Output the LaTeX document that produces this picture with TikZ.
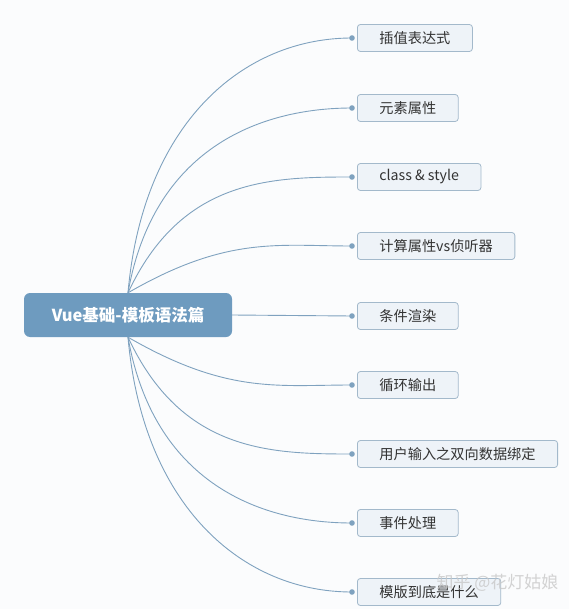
\documentclass[tikz,border=0pt]{standalone}
\usepackage{fontspec}
\setmainfont{Noto Sans CJK SC}
\usetikzlibrary{positioning}
\definecolor{rootblue}{HTML}{6E9BBF}
\definecolor{linkblue}{HTML}{7FA2BF}
\definecolor{leaffill}{HTML}{EEF3F8}
\definecolor{leafedge}{HTML}{A3B9CB}
\definecolor{leaftext}{HTML}{333333}
\definecolor{paper}{HTML}{FBFCFD}
\definecolor{markgray}{HTML}{C8C8C8}
\begin{document}
\begin{tikzpicture}[x=1pt, y=1pt,
  root/.style={fill=rootblue, text=white, rounded corners=6pt, minimum width=208pt, minimum height=44pt, font=\fontsize{16.5}{18}\selectfont\bfseries},
  leaf/.style={draw=leafedge, fill=leaffill, text=leaftext, rounded corners=3pt, line width=.8pt, minimum height=27pt, inner xsep=22pt, font=\fontsize{14.2}{16}\selectfont, anchor=west},
  link/.style={draw=linkblue, line width=.9pt},
  dot/.style={fill=linkblue},
  watermark/.style={text=markgray, opacity=.8, font=\fontsize{17}{19}\selectfont, anchor=west}]
  \fill[paper] (0,0) rectangle (569,-609);
  \useasboundingbox (0,0) rectangle (569,-609);

  \node[root] (vue) at (128,-315) {Vue基础-模板语法篇};
  \foreach \i/\yy/\txt in {1/38/插值表达式, 2/108/元素属性, 3/177/{class \& style}, 4/246/计算属性vs侦听器, 5/316/条件渲染, 6/385/循环输出, 7/454/用户输入之双向数据绑定, 8/523/事件处理, 9/592/模版到底是什么}{
    \node[leaf] (b\i) at (357,-\yy) {\txt};
    \coordinate (d\i) at ([xshift=-5pt]b\i.west);
  }

  \foreach \i/\a in {1/85, 2/80, 3/65, 4/30}
    \draw[link] (vue.north) to[out=\a, in=180, out looseness=1.28, in looseness=.83] (d\i);
  \foreach \i/\a in {6/-30, 7/-65, 8/-80, 9/-85}
    \draw[link] (vue.south) to[out=\a, in=180, out looseness=1.28, in looseness=.83] (d\i);
  \draw[link] (vue.east) -- (d5);
  \foreach \i in {1,...,9}
    \fill[dot] (d\i) circle (2.8pt);

  \node[watermark] (wm) at (433,-583) {知乎 @花灯姑娘};
\end{tikzpicture}
\end{document}
